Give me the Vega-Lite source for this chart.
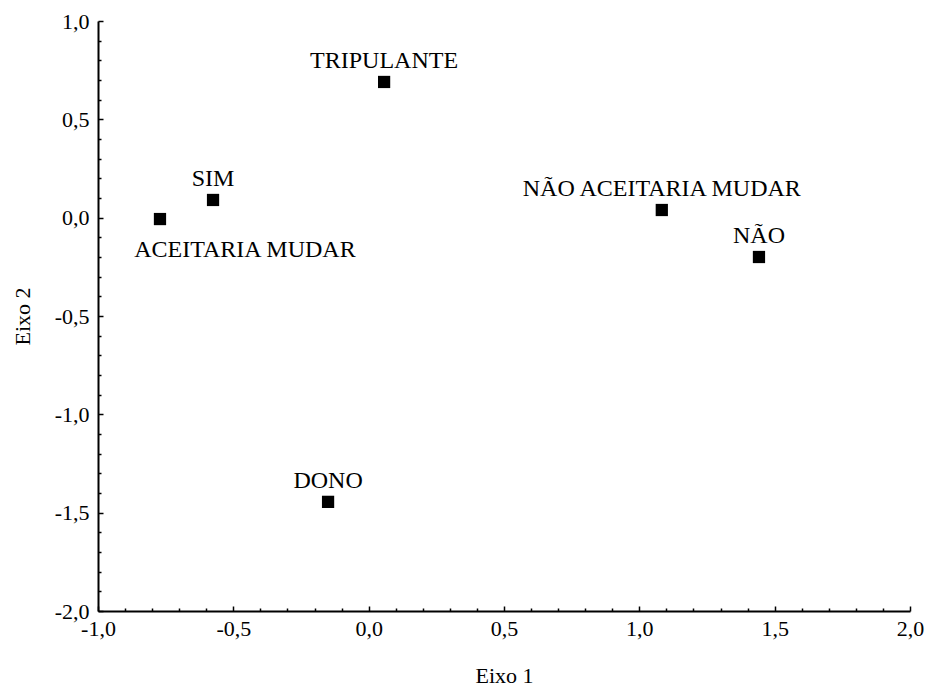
{
  "$schema": "https://vega.github.io/schema/vega-lite/v6.json",
  "autosize": "none",
  "width": 812,
  "height": 590,
  "padding": {"left": 98, "top": 21, "right": 17, "bottom": 80},
  "background": "white",
  "config": {
    "view": {"stroke": null},
    "font": "Liberation Serif",
    "axis": {
      "labelFont": "Liberation Serif",
      "titleFont": "Liberation Serif",
      "labelFontSize": 22,
      "titleFontSize": 22,
      "labelColor": "black",
      "titleColor": "black",
      "titleFontWeight": "normal",
      "domainColor": "black",
      "domainWidth": 2,
      "tickColor": "black",
      "tickWidth": 1.5,
      "grid": false
    }
  },
  "data": {
    "values": [
      {"label": "ACEITARIA MUDAR", "x": -0.771, "y": -0.007, "pos": "below"},
      {"label": "SIM", "x": -0.575, "y": 0.09, "pos": "above"},
      {"label": "TRIPULANTE", "x": 0.057, "y": 0.69, "pos": "above"},
      {"label": "NÃO ACEITARIA MUDAR", "x": 1.083, "y": 0.039, "pos": "above"},
      {"label": "NÃO", "x": 1.442, "y": -0.2, "pos": "above"},
      {"label": "DONO", "x": -0.15, "y": -1.445, "pos": "above"}
    ]
  },
  "resolve": {"axis": {"x": "independent", "y": "independent"}},
  "layer": [
    {
      "mark": {"type": "point", "shape": "square", "filled": true, "color": "black", "size": 150, "opacity": 1},
      "encoding": {
        "x": {
          "field": "x", "type": "quantitative",
          "scale": {"domain": [-1, 2], "nice": false, "zero": false},
          "axis": {
            "orient": "bottom",
            "title": "Eixo 1",
            "values": [-1, -0.5, 0, 0.5, 1, 1.5, 2],
            "labelExpr": "(datum.value < 0 ? '-' : '') + replace(format(abs(datum.value), '.1f'), '.', ',')",
            "tickSize": -5,
            "labelPadding": 12,
            "titlePadding": 26,
            "labelFlush": false
          }
        },
        "y": {
          "field": "y", "type": "quantitative",
          "scale": {"domain": [-2, 1], "nice": false, "zero": false},
          "axis": {
            "orient": "left",
            "title": "Eixo 2",
            "values": [-2, -1.5, -1, -0.5, 0, 0.5, 1],
            "labelExpr": "(datum.value < 0 ? '-' : '') + replace(format(abs(datum.value), '.1f'), '.', ',')",
            "tickSize": -5,
            "labelPadding": 14,
            "titlePadding": 20,
            "labelFlush": false
          }
        }
      }
    },
    {
      "mark": {"type": "point", "opacity": 0},
      "encoding": {
        "x": {
          "field": "x", "type": "quantitative",
          "axis": {
            "orient": "bottom",
            "title": null,
            "labels": false,
            "domain": false,
            "values": [-0.9, -0.8, -0.7, -0.6, -0.4, -0.3, -0.2, -0.1, 0.1, 0.2, 0.3, 0.4, 0.6, 0.7, 0.8, 0.9, 1.1, 1.2, 1.3, 1.4, 1.6, 1.7, 1.8, 1.9],
            "tickSize": -3
          }
        },
        "y": {
          "field": "y", "type": "quantitative",
          "axis": {
            "orient": "left",
            "title": null,
            "labels": false,
            "domain": false,
            "values": [-1.9, -1.8, -1.7, -1.6, -1.4, -1.3, -1.2, -1.1, -0.9, -0.8, -0.7, -0.6, -0.4, -0.3, -0.2, -0.1, 0.1, 0.2, 0.3, 0.4, 0.6, 0.7, 0.8, 0.9],
            "tickSize": -3
          }
        }
      }
    },
    {
      "transform": [{"filter": "datum.pos == 'above'"}],
      "mark": {"type": "text", "font": "Liberation Serif", "fontSize": 24, "color": "black", "align": "center", "baseline": "alphabetic", "dy": -14},
      "encoding": {
        "x": {"field": "x", "type": "quantitative", "axis": null},
        "y": {"field": "y", "type": "quantitative", "axis": null},
        "text": {"field": "label"}
      }
    },
    {
      "transform": [{"filter": "datum.pos == 'below'"}],
      "mark": {"type": "text", "font": "Liberation Serif", "fontSize": 24, "color": "black", "align": "center", "baseline": "alphabetic", "dx": 85, "dy": 38},
      "encoding": {
        "x": {"field": "x", "type": "quantitative", "axis": null},
        "y": {"field": "y", "type": "quantitative", "axis": null},
        "text": {"field": "label"}
      }
    }
  ]
}
